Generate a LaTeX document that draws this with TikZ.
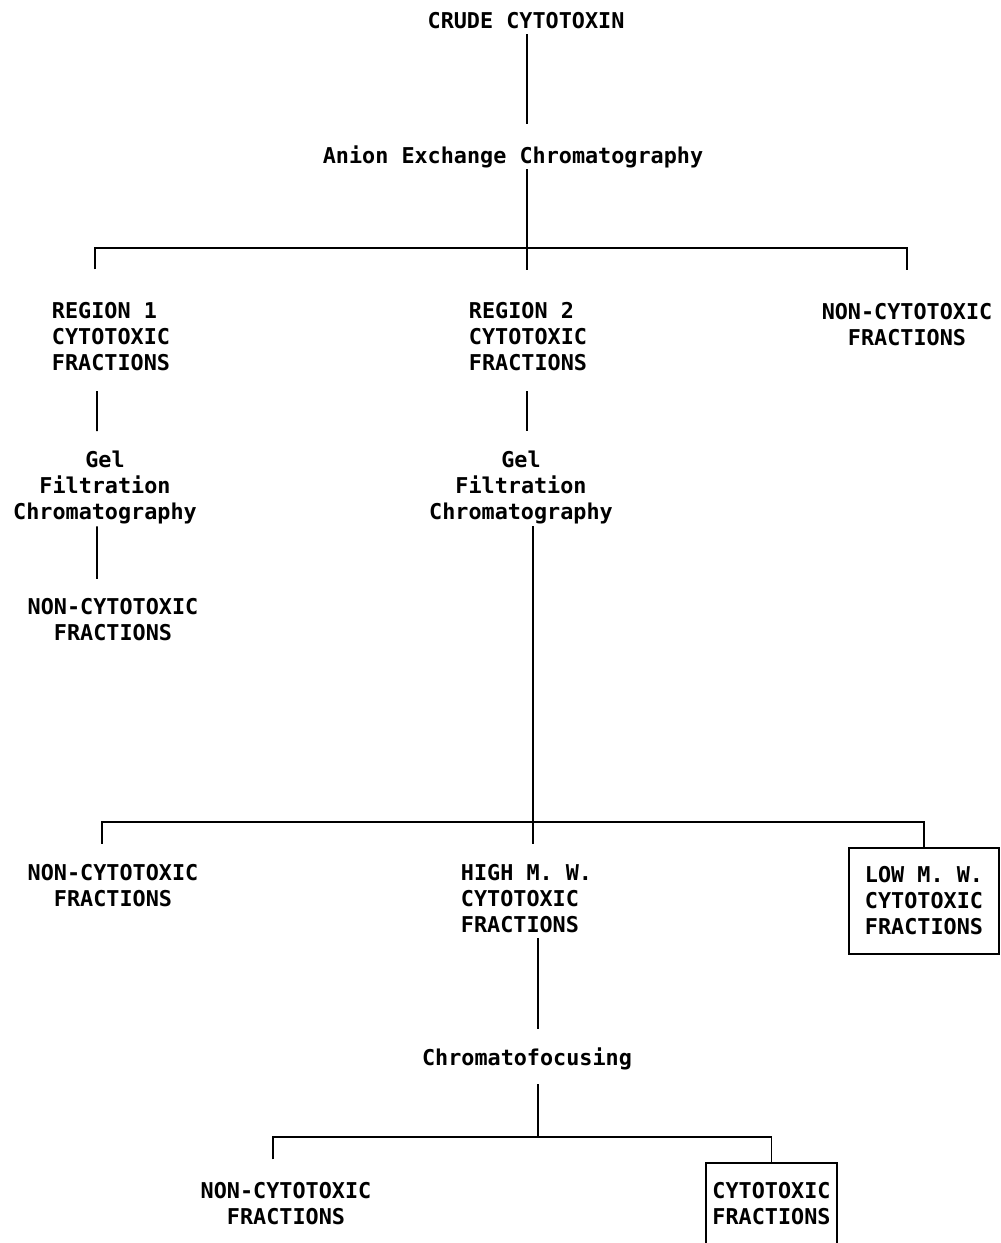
\documentclass[tikz,border=0pt]{standalone}
\usepackage{fontspec}
\setmonofont{DejaVu Sans Mono}

\begin{document}
\begin{tikzpicture}[x=0.02cm, y=-0.02cm, line width=1pt,
  every node/.style = {align=center, inner sep=0pt,
    font=\ttfamily\bfseries\fontsize{12.4}{14.8}\selectfont},
  framed/.style = {draw, minimum width=3cm, minimum height=2.12cm}]
  \useasboundingbox (0,0) rectangle (1000,1243);
  \node (crude) at (526,20.5) {CRUDE CYTOTOXIN};
  \node (anion) at (513,157.3) {Anion Exchange Chromatography};
  \node[align=left] (reg1) at (111,337) {REGION 1\\CYTOTOXIC\\FRACTIONS};
  \node[align=left] (reg2) at (528,337) {REGION 2\\CYTOTOXIC\\FRACTIONS};
  \node (nonA) at (907,324.5) {NON-CYTOTOXIC\\FRACTIONS};
  \node (gel1) at (105,487) {Gel\\Filtration\\Chromatography};
  \node (non1) at (113,620) {NON-CYTOTOXIC\\FRACTIONS};
  \node (gel2) at (521,487) {Gel\\Filtration\\Chromatography};
  \node (non2) at (113,886) {NON-CYTOTOXIC\\FRACTIONS};
  \node[align=left] (high) at (526.5,899) {HIGH M. W.\\CYTOTOXIC\\FRACTIONS};
  \node[framed, align=left] (low) at (924,901) {LOW M. W.\\CYTOTOXIC\\FRACTIONS};
  \node (chromf) at (527,1059.3) {Chromatofocusing};
  \node (non3) at (286,1203.5) {NON-CYTOTOXIC\\FRACTIONS};
  \node[framed, minimum width=2.62cm, minimum height=1.62cm] (cyto) at (771.5,1203.5) {CYTOTOXIC\\FRACTIONS};
  \coordinate (ja) at (527,248);
  \coordinate (jb) at (533,822);
  \coordinate (jc) at (538,1137);
  \draw[shorten <=0.09cm, shorten >=0.43cm] (crude.south -| ja) -- (anion.north -| ja);
  \draw (anion.south -| ja) -- (ja);
  \draw[shorten <=0.65cm, shorten >=0.65cm] ([xshift=-0.32cm]reg1.north) |- (ja) -| (nonA.north);
  \draw[shorten >=0.64cm] (ja) -- (reg2.north -| ja);
  \draw[shorten <=0.38cm, shorten >=0.37cm] ([xshift=-0.28cm]reg1.south) -- ([xshift=-0.16cm]gel1.north);
  \draw[shorten <=0.04cm, shorten >=0.38cm] ([xshift=-0.16cm]gel1.south) -- ([xshift=-0.32cm]non1.north);
  \draw[shorten <=0.38cm, shorten >=0.37cm] (reg2.south -| ja) -- (gel2.north -| ja);
  \draw[shorten <=0.04cm] (gel2.south -| jb) -- (jb);
  \draw[shorten <=0.4cm] ([xshift=-0.22cm]non2.north) |- (jb) -| (low.north);
  \draw[shorten >=0.4cm] (jb) -- (high.north -| jb);
  \draw[shorten <=0.08cm, shorten >=0.37cm] (high.south -| jc) -- (chromf.north -| jc);
  \draw[shorten <=0.26cm] (chromf.south -| jc) -- (jc);
  \draw[shorten <=0.44cm] ([xshift=-0.26cm]non3.north) |- (jc) -| (cyto.north);
\end{tikzpicture}
\end{document}
